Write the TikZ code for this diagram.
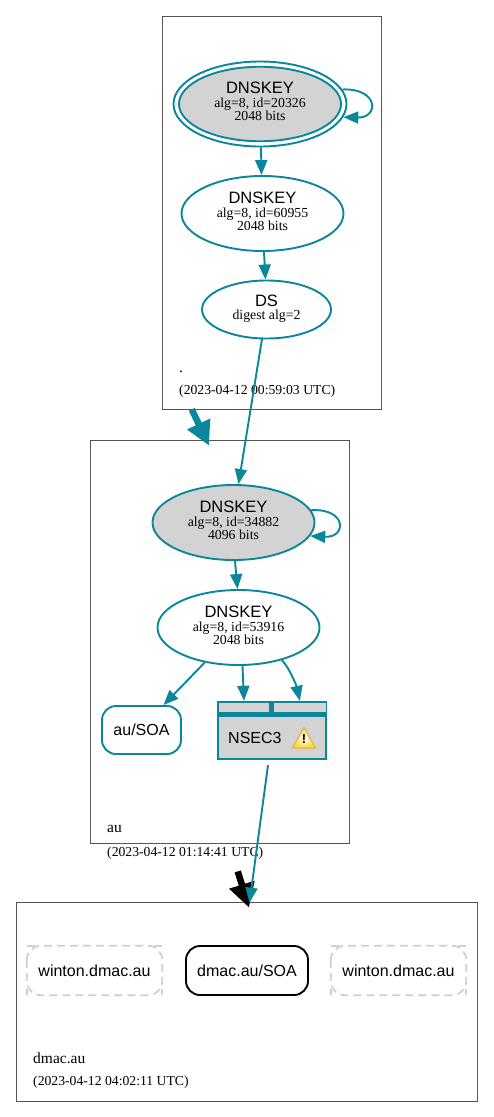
\documentclass[tikz,border=0pt]{standalone}
\usepackage{fontspec}
\setmainfont{Liberation Serif}
\newfontfamily\hv{Liberation Sans}
\usetikzlibrary{shapes.geometric,arrows.meta}
\definecolor{teal1}{HTML}{0A879A}
\definecolor{gfill}{HTML}{D3D3D3}
\definecolor{zbox}{HTML}{555555}
\definecolor{dashg}{HTML}{CFCFCF}
\definecolor{warnedge}{HTML}{DDB850}
\definecolor{warnfill}{HTML}{FFD933}
\tikzset{
  zone/.style={draw=zbox,line width=0.8pt,fill=white,rectangle,inner sep=0},
  key/.style={ellipse,draw=teal1,line width=1.9pt,inner sep=0,align=center,text depth=5pt,font=\fontsize{13.8}{13}\selectfont},
  ksk/.style={key,fill=gfill},
  rr/.style={rectangle,rounded corners=14pt,draw=teal1,line width=1.9pt,inner sep=0,font=\hv\fontsize{16}{18}\selectfont},
  edge/.style={draw=teal1,line width=1.9pt,-{Stealth[length=15pt,width=12pt,inset=0pt]}},
  cell/.style={rectangle,fill=gfill,inner sep=0},
  lab/.style={anchor=base west,inner sep=0,font=\fontsize{15.5}{16}\selectfont},
  lab2/.style={anchor=base west,inner sep=0,font=\fontsize{13.7}{14}\selectfont},
  dashline/.style={dashg,line width=1.7pt,dash pattern=on 8pt off 5pt},
}
\newcommand{\keytext}[2]{{\hv\fontsize{16.5}{13}\selectfont DNSKEY}\\[1pt]alg=8, id=#1\\#2 bits}
\begin{document}
\begin{tikzpicture}[x=1pt,y=-1pt]
\useasboundingbox (0,0) rectangle (493,1117);
% zones
\node[zone,minimum width=218.5pt,minimum height=393pt] (zroot) at (271.75,212.5) {};
\node[zone,minimum width=258.5pt,minimum height=402.5pt] (zau) at (219.75,641.75) {};
\node[zone,minimum width=461pt,minimum height=199pt] (zdmac) at (246.5,1001.5) {};
% zone labels
\node[lab] (l1) at (179,372) {.};
\node[lab2] (d1) at (179,394) {(2023-04-12 00:59:03 UTC)};
\node[lab] (l2) at (107,832) {au};
\node[lab2] (d2) at (107,856) {(2023-04-12 01:14:41 UTC)};
\node[lab] (l3) at (33,1063) {dmac.au};
\node[lab2] (d3) at (33,1085) {(2023-04-12 04:02:11 UTC)};
% root zone nodes
\node[ellipse,draw=teal1,line width=1.9pt,minimum width=173pt,minimum height=85pt,inner sep=0] (k0o) at (260,104) {};
\node[ksk,minimum width=162pt,minimum height=74.5pt] (k0) at (260,104) {\keytext{20326}{2048}};
\node[key,minimum width=162pt,minimum height=75pt] (k1) at (262.5,213.5) {\keytext{60955}{2048}};
\node[key,minimum width=129pt,minimum height=58pt] (ds) at (266.5,309.5) {{\hv\fontsize{16.5}{14}\selectfont DS}\\digest alg=2};
% au zone nodes
\node[ksk,minimum width=162pt,minimum height=75pt] (k2) at (233.5,522.5) {\keytext{34882}{4096}};
\node[key,minimum width=162pt,minimum height=75pt] (k3) at (238.5,627.5) {\keytext{53916}{2048}};
\node[rr,minimum width=79pt,minimum height=48pt] (soa) at (141.5,730) {au/SOA};
% NSEC3
\node[rectangle,fill=teal1,minimum width=110pt,minimum height=59pt,inner sep=0] (ns) at (272,730.5) {};
\node[cell,minimum width=50pt,minimum height=9pt] (c1) at (244,707.5) {};
\node[cell,minimum width=51.5pt,minimum height=9pt] (c2) at (299.75,707.5) {};
\node[cell,minimum width=106.5pt,minimum height=41pt] (c3) at (272,737.5) {};
\node[inner sep=0,anchor=base west,font=\hv\fontsize{16}{18}\selectfont] (nst) at (228,743) {NSEC3};
\path[draw=warnedge,line width=1.2pt,line join=round,inner color=white,outer color=warnfill] (304,727.5) -- (315.5,748) -- (292.5,748) -- cycle;
\node[inner sep=0,font=\hv\bfseries\fontsize{13}{13}\selectfont] (wt) at (304,739.5) {!};
% dmac zone nodes
\node[rr,draw=black,minimum width=122pt,minimum height=49pt] (dsoa) at (247,970.5) {dmac.au/SOA};
\foreach \n/\x in {w1/94.5,w2/398.5}{
  \node[rectangle,minimum width=135pt,minimum height=49pt,inner sep=0,font=\hv\fontsize{16}{18}\selectfont] (\n) at (\x,970.5) {winton.dmac.au};
  \draw[dashline,rounded corners=14pt] (\n.north west) rectangle (\n.south east);
  \draw[dashline,dash pattern=on 8pt off 0pt] (\n.north west) -- ++(8,0);
  \draw[dashline,dash pattern=on 8pt off 0pt] (\n.north east) -- ++(-8,0);
  \draw[dashline,dash pattern=on 6pt off 0pt] (\n.south west) -- ++(0,-6);
  \draw[dashline,dash pattern=on 6pt off 0pt] (\n.south east) -- ++(0,-6);
}
% delegation arrows
\draw[black,line width=6.5pt,-{Stealth[length=24pt,width=25pt,inset=0pt]}] ([xshift=18pt,yshift=-28pt]zau.south) -- ([xshift=2.5pt,yshift=-6pt]zdmac.north);
\draw[teal1,line width=6.5pt,-{Stealth[length=24pt,width=24pt,inset=0pt]}] ([xshift=-80pt]zroot.south) -- ([xshift=-10.75pt,yshift=-5.5pt]zau.north);
% edges
\draw[edge] ([xshift=1pt]k0o.south) -- ([xshift=-1pt]k1.north);
\draw[edge] ([xshift=1.5pt]k1.south) -- ([xshift=-1pt]ds.north);
\draw[edge] ([xshift=-4.5pt,yshift=0.5pt]ds.south) -- ([xshift=5pt]k2.north);
\draw[edge] ([xshift=1.5pt]k2.south) -- ([xshift=-1pt]k3.north);
\draw[edge] (k3.226.7) -- ([xshift=22pt]soa.north);
\draw[edge] ([xshift=4pt]k3.south) -- ([yshift=2pt]c1.north);
\draw[edge] (k3.-37) .. controls +(8,8) and +(-3,-14) .. ([yshift=2pt]c2.north);
\draw[edge] ([xshift=-4pt,yshift=-5pt]ns.south) -- ([xshift=3pt,yshift=-1pt]zdmac.north);
\draw[edge] (k0o.10) .. controls (379,88) and (379,118) .. (k0o.-9.2);
\draw[edge] (k2.9.5) .. controls (347,508) and (347,538) .. (k2.-10.5);
\end{tikzpicture}
\end{document}
